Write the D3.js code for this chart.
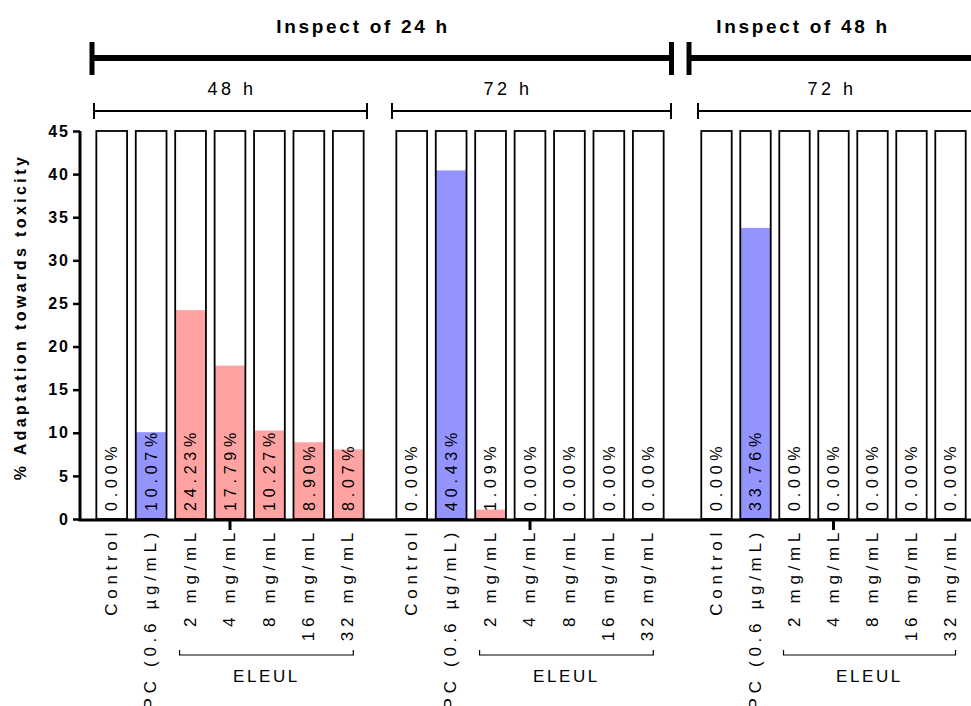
<!DOCTYPE html>
<html>
<head>
<meta charset="utf-8">
<script src="https://cdn.jsdelivr.net/npm/d3@7/dist/d3.min.js"></script>
<style>
  html, body { margin: 0; padding: 0; background: #fff; }
  svg { display: block; font-family: "Liberation Sans", Arial, sans-serif; }
</style>
</head>
<body>
<svg id="chart" width="971" height="706"></svg>
<script>
// ---- data ----
const categories = ["Control", "PC (0.6 \u00b5g/mL)", "2 mg/mL", "4 mg/mL", "8 mg/mL", "16 mg/mL", "32 mg/mL"];
const categoryType = ["control", "pc", "eleul", "eleul", "eleul", "eleul", "eleul"];
const groupLabels = ["48 h", "72 h", "72 h"];
const inspectLabels = ["Inspect of 24 h", "Inspect of 48 h"];
const values24h48h = [0.00, 10.07, 24.23, 17.79, 10.27, 8.90, 8.07];
const values24h72h = [0.00, 40.43, 1.09, 0.00, 0.00, 0.00, 0.00];
const values48h72h = [0.00, 33.76, 0.00, 0.00, 0.00, 0.00, 0.00];
const groupValues = [values24h48h, values24h72h, values48h72h];
const yTicks = [0, 5, 10, 15, 20, 25, 30, 35, 40, 45];
const yMax = 45;
const subLabel = "ELEUL";
const yTitle = "% Adaptation towards toxicity";

// ---- layout ----
const svg = d3.select("#chart");
const groupRanges = [[92, 368], [392, 668], [697, 970]];
const bracketX = [[94, 367], [392, 671], [698, 975]];
const groupLabelX = [230, 506, 830];
const inspectLines = [[92, 671.5], [689, 980]];
const inspectLabelX = [362, 802];
const colors = { control: "#ffffff", pc: "#9494ff", eleul: "#ffa2a2" };

const y = d3.scaleLinear().domain([0, yMax]).range([519, 131]);

const xScales = groupRanges.map(r =>
  d3.scaleBand().domain(categories).range(r).paddingInner(0.22).paddingOuter(0.11));

// ---- y axis ----
const yAxis = d3.axisLeft(y).tickValues(yTicks).tickSize(7).tickPadding(3);
const gy = svg.append("g").attr("transform", "translate(80,0)").call(yAxis);
gy.select(".domain").attr("stroke", "#000").attr("stroke-width", 3)
  .attr("d", `M0,${y(yMax)}V${y(0) + 2}`);
gy.selectAll(".tick line").attr("stroke", "#000").attr("stroke-width", 2.5);
gy.selectAll(".tick text").attr("fill", "#000").attr("font-size", 16)
  .attr("font-weight", "bold").attr("font-family", "Liberation Sans, Arial, sans-serif")
  .style("letter-spacing", "2px");

svg.append("text")
  .attr("transform", `translate(20,${(y(0) + y(yMax)) / 2 - 8}) rotate(-90)`)
  .attr("text-anchor", "middle").attr("dy", "0.35em")
  .attr("font-size", 16).attr("font-weight", "bold")
  .style("letter-spacing", "3.4px")
  .text(yTitle);

// ---- bars ----
groupValues.forEach((vals, gi) => {
  const x = xScales[gi];
  const g = svg.append("g");
  const data = categories.map((c, i) => ({ c, v: vals[i], t: categoryType[i] }));
  g.selectAll("rect.bg").data(data).join("rect").attr("class", "bg")
    .attr("x", d => x(d.c)).attr("width", x.bandwidth())
    .attr("y", y(yMax)).attr("height", y(0) - y(yMax))
    .attr("fill", "#fff");
  g.selectAll("rect.val").data(data).join("rect").attr("class", "val")
    .attr("x", d => x(d.c)).attr("width", x.bandwidth())
    .attr("y", d => y(d.v)).attr("height", d => y(0) - y(d.v))
    .attr("fill", d => colors[d.t]);
  g.selectAll("rect.ol").data(data).join("rect").attr("class", "ol")
    .attr("x", d => x(d.c)).attr("width", x.bandwidth())
    .attr("y", y(yMax)).attr("height", y(0) - y(yMax))
    .attr("fill", "none").attr("stroke", "#000").attr("stroke-width", 1.8);
  // value labels
  g.selectAll("text.vl").data(data).join("text").attr("class", "vl")
    .attr("transform", d => `translate(${x(d.c) + x.bandwidth() / 2},${y(0) - 8}) rotate(-90)`)
    .attr("dy", "0.36em").attr("text-anchor", "start")
    .attr("font-size", 16).style("letter-spacing", "4.8px")
    .text(d => d.v.toFixed(2) + "%");
  // category labels
  g.selectAll("text.cl").data(data).join("text").attr("class", "cl")
    .attr("transform", d => `translate(${x(d.c) + x.bandwidth() / 2 - 1},${528}) rotate(-90)`)
    .attr("dy", "0.36em").attr("text-anchor", "end")
    .attr("font-size", 17).style("letter-spacing", "4.7px")
    .text(d => d.c);
  // middle axis tick under the 4 mg/mL bar
  const mid = categories[3];
  g.append("line")
    .attr("x1", x(mid) + x.bandwidth() / 2).attr("x2", x(mid) + x.bandwidth() / 2)
    .attr("y1", y(0)).attr("y2", y(0) + 11)
    .attr("stroke", "#000").attr("stroke-width", 3);
  // ELEUL bracket
  const first = categories[2], last = categories[6];
  const bx1 = x(first) + x.bandwidth() / 2 - 11;
  const bx2 = x(last) + x.bandwidth() / 2 + 5;
  g.append("path")
    .attr("d", `M${bx1},650V655H${bx2}V650`)
    .attr("fill", "none").attr("stroke", "#000").attr("stroke-width", 1.2);
  g.append("text")
    .attr("x", (bx1 + bx2) / 2).attr("y", 682)
    .attr("text-anchor", "middle").attr("font-size", 17)
    .style("letter-spacing", "2.6px")
    .text(subLabel);
  // group bracket and label
  const [gx1, gx2] = bracketX[gi];
  g.append("path")
    .attr("d", `M${gx1},103V119M${gx1},111H${gx2}M${gx2},103V119`)
    .attr("fill", "none").attr("stroke", "#000").attr("stroke-width", 2);
  g.append("text")
    .attr("x", groupLabelX[gi] + 2).attr("y", 95)
    .attr("text-anchor", "middle").attr("font-size", 18)
    .style("letter-spacing", "3.5px")
    .text(groupLabels[gi]);
});

// ---- x axis line ----
svg.append("line").attr("x1", 78.5).attr("x2", 971).attr("y1", y(0) + 1).attr("y2", y(0) + 1)
  .attr("stroke", "#000").attr("stroke-width", 3);

// ---- inspect lines ----
inspectLines.forEach(([a, b], i) => {
  svg.append("path")
    .attr("d", `M${a},58H${b}`)
    .attr("stroke", "#000").attr("stroke-width", 6).attr("fill", "none");
  svg.append("path")
    .attr("d", `M${a},42V75` + (b < 971 ? `M${b},42V75` : ""))
    .attr("stroke", "#000").attr("stroke-width", 5).attr("fill", "none");
  svg.append("text")
    .attr("x", inspectLabelX[i] + 1).attr("y", 33)
    .attr("text-anchor", "middle").attr("font-size", 19).attr("font-weight", "bold")
    .style("letter-spacing", "2.7px")
    .text(inspectLabels[i]);
});
</script>
</body>
</html>
